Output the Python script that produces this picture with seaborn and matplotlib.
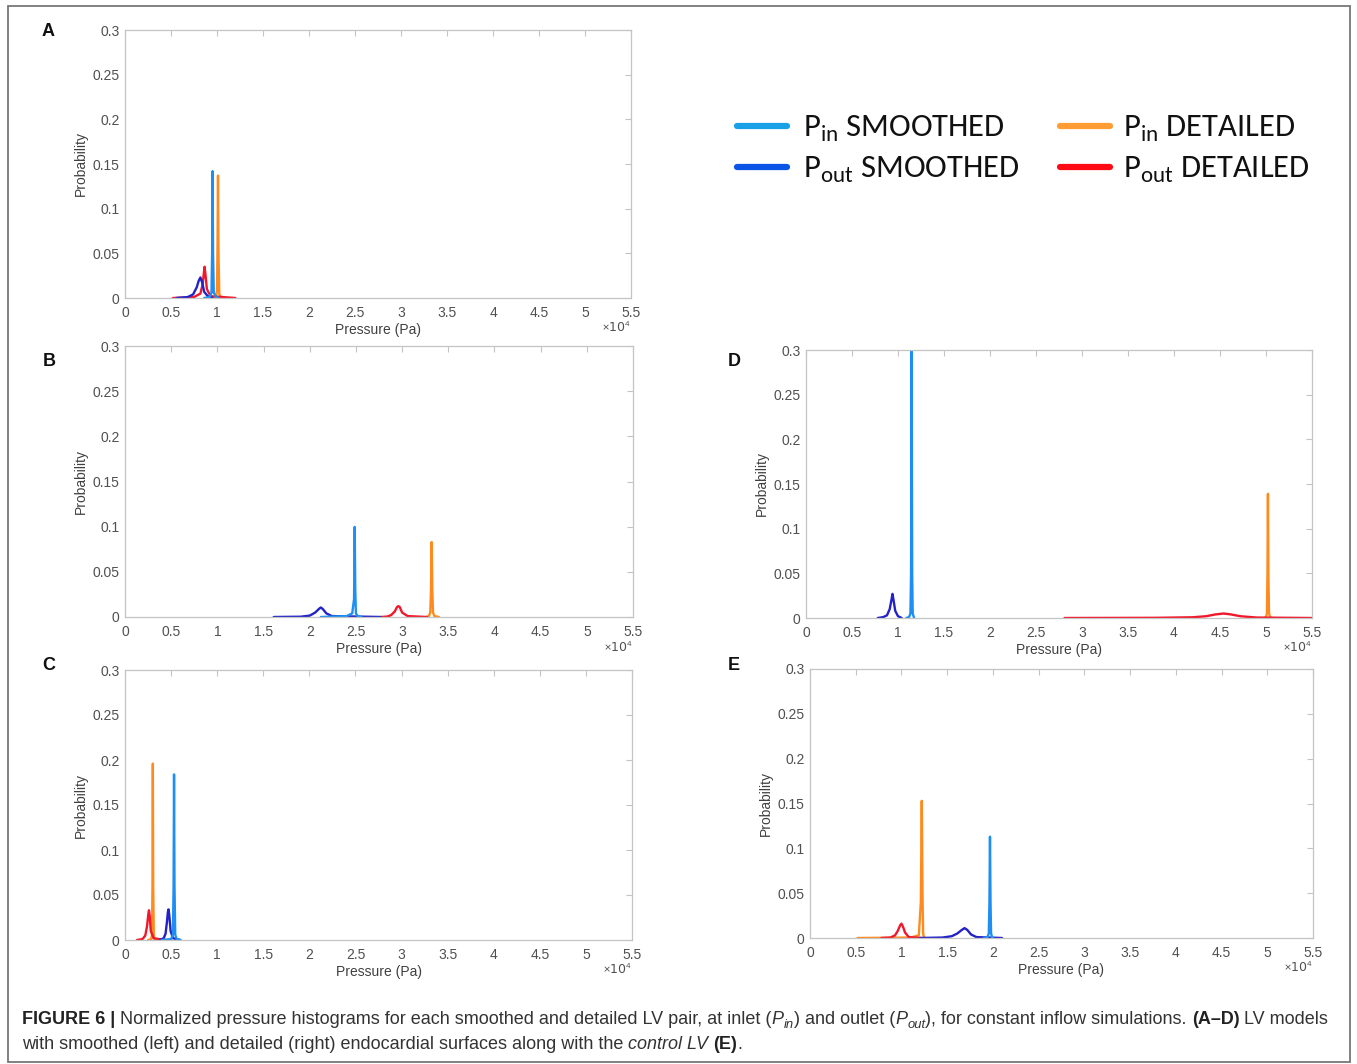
import numpy as np
import pandas as pd
import seaborn as sns
import matplotlib
matplotlib.use("Agg")
import matplotlib.pyplot as plt
from matplotlib.lines import Line2D
from matplotlib.patches import Rectangle
from matplotlib import font_manager
from matplotlib.transforms import IdentityTransform

# ---------------- data (pressure in units of 1e4 Pa, probability) ----------------
# Panel A
A_PIN_SM_X = [0.86, 0.92, 0.94, 0.947, 0.952, 0.957, 0.965, 0.99, 1.02]
A_PIN_SM_Y = [0, 0.001, 0.006, 0.05, 0.142, 0.05, 0.006, 0.001, 0]
A_POUT_SM_X = [0.56, 0.68, 0.74, 0.78, 0.80, 0.82, 0.84, 0.86, 0.90, 0.95]
A_POUT_SM_Y = [0, 0.001, 0.004, 0.012, 0.019, 0.023, 0.017, 0.007, 0.002, 0]
A_PIN_DET_X = [0.95, 0.99, 1.0, 1.006, 1.011, 1.016, 1.025, 1.05]
A_PIN_DET_Y = [0, 0.002, 0.008, 0.06, 0.137, 0.05, 0.004, 0]
A_POUT_DET_X = [0.52, 0.75, 0.82, 0.845, 0.857, 0.865, 0.875, 0.89, 0.93, 1.2]
A_POUT_DET_Y = [0, 0.001, 0.005, 0.016, 0.028, 0.035, 0.026, 0.01, 0.002, 0]
# Panel B
B_PIN_SM_X = [2.12, 2.40, 2.46, 2.48, 2.487, 2.493, 2.50, 2.52, 2.56]
B_PIN_SM_Y = [0, 0.001, 0.004, 0.02, 0.0997, 0.03, 0.004, 0.001, 0]
B_POUT_SM_X = [1.61, 1.9, 2.0, 2.06, 2.10, 2.12, 2.14, 2.18, 2.24, 2.77]
B_POUT_SM_Y = [0, 0.0003, 0.0015, 0.005, 0.009, 0.0105, 0.009, 0.004, 0.001, 0]
B_PIN_DET_X = [3.26, 3.29, 3.305, 3.313, 3.32, 3.327, 3.335, 3.35, 3.40]
B_PIN_DET_Y = [0, 0.001, 0.005, 0.03, 0.083, 0.03, 0.005, 0.001, 0]
B_POUT_DET_X = [2.77, 2.84, 2.88, 2.92, 2.945, 2.96, 2.975, 3.0, 3.06, 3.27]
B_POUT_DET_Y = [0, 0.0005, 0.002, 0.006, 0.011, 0.012, 0.011, 0.005, 0.001, 0]
# Panel C
C_PIN_SM_X = [0.40, 0.50, 0.52, 0.527, 0.532, 0.537, 0.545, 0.56, 0.60]
C_PIN_SM_Y = [0, 0.001, 0.006, 0.06, 0.184, 0.06, 0.006, 0.001, 0]
C_POUT_SM_X = [0.38, 0.42, 0.44, 0.455, 0.465, 0.472, 0.48, 0.495, 0.52, 0.60]
C_POUT_SM_Y = [0, 0.002, 0.007, 0.02, 0.031, 0.034, 0.028, 0.01, 0.002, 0]
C_PIN_DET_X = [0.25, 0.285, 0.293, 0.298, 0.302, 0.306, 0.312, 0.32, 0.35]
C_PIN_DET_Y = [0, 0.001, 0.006, 0.06, 0.196, 0.06, 0.006, 0.001, 0]
C_POUT_DET_X = [0.13, 0.19, 0.22, 0.24, 0.252, 0.26, 0.268, 0.28, 0.31, 0.43]
C_POUT_DET_Y = [0, 0.001, 0.005, 0.016, 0.028, 0.033, 0.027, 0.01, 0.002, 0]
# Panel D
D_PIN_SM_X = [1.09, 1.12, 1.135, 1.142, 1.148, 1.154, 1.16, 1.175]
D_PIN_SM_Y = [0, 0.001, 0.005, 0.05, 0.32, 0.05, 0.005, 0]
D_POUT_SM_X = [0.78, 0.84, 0.88, 0.91, 0.93, 0.94, 0.95, 0.97, 1.0, 1.04]
D_POUT_SM_Y = [0, 0.001, 0.003, 0.01, 0.021, 0.027, 0.021, 0.008, 0.002, 0]
D_PIN_DET_X = [4.98, 5.0, 5.01, 5.016, 5.021, 5.026, 5.033, 5.045, 5.07]
D_PIN_DET_Y = [0, 0.001, 0.005, 0.05, 0.139, 0.05, 0.005, 0.001, 0]
D_POUT_DET_X = [2.81, 3.8, 4.2, 4.35, 4.45, 4.54, 4.62, 4.72, 4.9, 5.5]
D_POUT_DET_Y = [0, 0.0002, 0.0008, 0.002, 0.004, 0.005, 0.004, 0.002, 0.0005, 0]
# Panel E
E_PIN_SM_X = [1.90, 1.94, 1.955, 1.962, 1.968, 1.974, 1.98, 1.99, 2.0]
E_PIN_SM_Y = [0, 0.001, 0.005, 0.04, 0.113, 0.04, 0.005, 0.001, 0]
E_POUT_SM_X = [1.20, 1.45, 1.55, 1.61, 1.66, 1.69, 1.72, 1.76, 1.82, 2.10]
E_POUT_SM_Y = [0, 0.0005, 0.002, 0.005, 0.009, 0.011, 0.009, 0.004, 0.001, 0]
E_PIN_DET_X = [0.52, 1.10, 1.19, 1.212, 1.222, 1.23, 1.237, 1.245, 1.26]
E_PIN_DET_Y = [0, 0.0005, 0.003, 0.04, 0.153, 0.05, 0.005, 0.001, 0]
E_POUT_DET_X = [0.78, 0.88, 0.93, 0.96, 0.985, 1.0, 1.015, 1.04, 1.08, 1.22]
E_POUT_DET_Y = [0, 0.0005, 0.003, 0.008, 0.014, 0.016, 0.013, 0.006, 0.001, 0]

SERIES = ["Pin detailed", "Pout detailed", "Pout smoothed", "Pin smoothed"]
PANEL_LETTERS = ["A", "B", "C", "D", "E"]
X_TICKS = [0, 0.5, 1, 1.5, 2, 2.5, 3, 3.5, 4, 4.5, 5, 5.5]
X_TICKLABELS = ["0", "0.5", "1", "1.5", "2", "2.5", "3", "3.5", "4", "4.5", "5", "5.5"]
Y_TICKS = [0, 0.05, 0.1, 0.15, 0.2, 0.25, 0.3]
Y_TICKLABELS = ["0", "0.05", "0.1", "0.15", "0.2", "0.25", "0.3"]
LEGEND_LABELS = [r"P$_\mathregular{in}$ SMOOTHED", r"P$_\mathregular{out}$ SMOOTHED",
                 r"P$_\mathregular{in}$ DETAILED", r"P$_\mathregular{out}$ DETAILED"]

PANELS = {
    "A": {"Pin detailed": (A_PIN_DET_X, A_PIN_DET_Y), "Pout detailed": (A_POUT_DET_X, A_POUT_DET_Y),
          "Pout smoothed": (A_POUT_SM_X, A_POUT_SM_Y), "Pin smoothed": (A_PIN_SM_X, A_PIN_SM_Y)},
    "B": {"Pin detailed": (B_PIN_DET_X, B_PIN_DET_Y), "Pout detailed": (B_POUT_DET_X, B_POUT_DET_Y),
          "Pout smoothed": (B_POUT_SM_X, B_POUT_SM_Y), "Pin smoothed": (B_PIN_SM_X, B_PIN_SM_Y)},
    "C": {"Pin detailed": (C_PIN_DET_X, C_PIN_DET_Y), "Pout detailed": (C_POUT_DET_X, C_POUT_DET_Y),
          "Pout smoothed": (C_POUT_SM_X, C_POUT_SM_Y), "Pin smoothed": (C_PIN_SM_X, C_PIN_SM_Y)},
    "D": {"Pin detailed": (D_PIN_DET_X, D_PIN_DET_Y), "Pout detailed": (D_POUT_DET_X, D_POUT_DET_Y),
          "Pout smoothed": (D_POUT_SM_X, D_POUT_SM_Y), "Pin smoothed": (D_PIN_SM_X, D_PIN_SM_Y)},
    "E": {"Pin detailed": (E_PIN_DET_X, E_PIN_DET_Y), "Pout detailed": (E_POUT_DET_X, E_POUT_DET_Y),
          "Pout smoothed": (E_POUT_SM_X, E_POUT_SM_Y), "Pin smoothed": (E_PIN_SM_X, E_PIN_SM_Y)},
}

# ---------------- style ----------------
sns.set_theme(style="white")
names = {f.name for f in font_manager.fontManager.ttflist}
AX_FAM = "Liberation Sans"
CAP_FAM = "Liberation Sans Narrow" if "Liberation Sans Narrow" in names else "Liberation Sans"
LEG_FAM = "Carlito" if "Carlito" in names else "Lato"
plt.rcParams["font.family"] = [AX_FAM, "DejaVu Sans"]
plt.rcParams["mathtext.fontset"] = "custom"
plt.rcParams["mathtext.rm"] = LEG_FAM
plt.rcParams["mathtext.it"] = CAP_FAM + ":italic"

PLOT_COLORS = {"Pin smoothed": "#1e8ff2", "Pout smoothed": "#2222c8",
               "Pin detailed": "#ff8a1e", "Pout detailed": "#f0182a"}
LEG_COLORS = ["#19a0e6", "#0a55e6", "#ff9c34", "#ff0a14"]

W, H = 1357, 1064
fig = plt.figure(figsize=(W / 100, H / 100), dpi=100)

def frac_rect(l, r, t, b):
    return [l / W, 1 - b / H, (r - l) / W, (b - t) / H]

AX_RECTS = {
    "A": frac_rect(125, 631, 30, 298),
    "B": frac_rect(125, 633, 346, 617),
    "C": frac_rect(125, 632, 670, 940),
    "D": frac_rect(806, 1312, 350, 618),
    "E": frac_rect(810, 1313, 669, 938),
}
LETTER_POS = {"A": (48, 32), "B": (49, 361), "C": (49, 665), "D": (734, 361), "E": (734, 665)}

SPINE_C = "#c4c4c4"
TICKLAB_C = "#505050"

for key in PANEL_LETTERS:
    ax = fig.add_axes(AX_RECTS[key])
    rows = []
    for s in SERIES:
        xs, ys = PANELS[key][s]
        for xv, yv in zip(xs, ys):
            rows.append({"pressure": xv, "prob": yv, "series": s})
    df = pd.DataFrame(rows)
    for s in SERIES:
        sns.lineplot(data=df[df.series == s], x="pressure", y="prob", color=PLOT_COLORS[s],
                     linewidth=1.7, estimator=None, ax=ax, legend=False)
    ax.set_xlim(0, 5.5)
    ax.set_ylim(0, 0.3)
    ax.set_xticks(X_TICKS)
    ax.set_xticklabels(X_TICKLABELS)
    ax.set_yticks(Y_TICKS)
    ax.set_yticklabels(Y_TICKLABELS)
    ax.tick_params(direction="in", top=True, right=True, length=4, width=0.8,
                   color=SPINE_C, labelsize=10, labelcolor=TICKLAB_C)
    ax.tick_params(axis="x", pad=6)
    ax.tick_params(axis="y", pad=4)
    for sp in ax.spines.values():
        sp.set_color(SPINE_C)
        sp.set_linewidth(0.9)
    ax.set_xlabel("Pressure (Pa)", fontsize=10, color="#404040", labelpad=2)
    ax.set_ylabel("Probability", fontsize=10, color="#404040", labelpad=3)
    ax.annotate(r"$\times$10$^4$", xy=(1.0, 0), xycoords="axes fraction",
                xytext=(0, -23), textcoords="offset pixels", ha="right", va="top",
                fontsize=9, color=TICKLAB_C, family="DejaVu Sans")
    lx, ly = LETTER_POS[key]
    fig.text(lx / W, 1 - ly / H, key, fontsize=13, fontweight="bold", color="#111111",
             ha="center", va="center")

# ---------------- legend ----------------
LEG_ROWS = [126, 167]
LEG_COLS = [(737, 787, 803), (1060, 1110, 1123)]
for i, lab in enumerate(LEGEND_LABELS):
    col, row = divmod(i, 2)
    x0, x1, xt = LEG_COLS[col]
    y = 1 - LEG_ROWS[row] / H
    fig.add_artist(Line2D([x0 / W, x1 / W], [y, y], color=LEG_COLORS[i], linewidth=4.5,
                          transform=fig.transFigure))
    fig.text(xt / W, y - 3 / H, lab, fontsize=23.5, family=LEG_FAM, color="#111111",
             ha="left", va="center")

# ---------------- caption ----------------
renderer = fig.canvas.get_renderer()
CAP_C = "#333333"

def width_of(text, size, weight="normal", style="normal"):
    t = fig.text(0, 0, text, fontsize=size, family=CAP_FAM, fontweight=weight, fontstyle=style)
    w = t.get_window_extent(renderer).width
    t.remove()
    return w

def piece_width(text, size, weight, style):
    core = text.strip(" ")
    sp = width_of("a a", size, weight, style) - width_of("aa", size, weight, style)
    if not core:
        return 0, len(text) * sp, 0, core
    lead = len(text) - len(text.lstrip(" "))
    trail = len(text) - len(text.rstrip(" "))
    return width_of(core, size, weight, style), lead * sp, trail * sp, core

def draw_line(pieces, x, y, size, draw=True):
    for text, fmt in pieces:
        weight = "bold" if "b" in fmt else "normal"
        style = "italic" if "i" in fmt else "normal"
        sub = "s" in fmt
        sz = size * 0.72 if sub else size
        w, lw, tw, core = piece_width(text, sz, weight, style)
        x += lw
        if draw and core:
            fig.text(x, y - (4 if sub else 0), core, fontsize=sz, family=CAP_FAM,
                     fontweight=weight, fontstyle=style, color="#222222" if "b" in fmt else CAP_C,
                     transform=IdentityTransform(), ha="left", va="baseline")
        x += w + tw
    return x

LINE1 = [("FIGURE 6 | ", "b"),
         ("Normalized pressure histograms for each smoothed and detailed LV pair, at inlet (", ""),
         ("P", "i"), ("in", "is"), (") and outlet (", ""), ("P", "i"), ("out", "is"),
         ("), for constant inflow simulations. ", ""), ("(A–D)", "b"), (" LV models", "")]
LINE2 = [("with smoothed (left) and detailed (right) endocardial surfaces along with the ", ""),
         ("control LV", "i"), (" ", ""), ("(E)", "b"), (".", "")]

base_size = 12.0
x_start = 22
target = 1331 - x_start
w_try = draw_line(LINE1, 0, 0, base_size, draw=False)
cap_size = base_size * target / w_try
draw_line(LINE1, x_start, H - 1024, cap_size)
draw_line(LINE2, x_start, H - 1049, cap_size)

# outer frame
fig.add_artist(Rectangle((8 / W, 1 - 1062 / H), (1350 - 8) / W, (1062 - 6) / H,
                         transform=fig.transFigure, fill=False, edgecolor="#777777", linewidth=1.3))

fig.savefig("out.png", dpi=100)
